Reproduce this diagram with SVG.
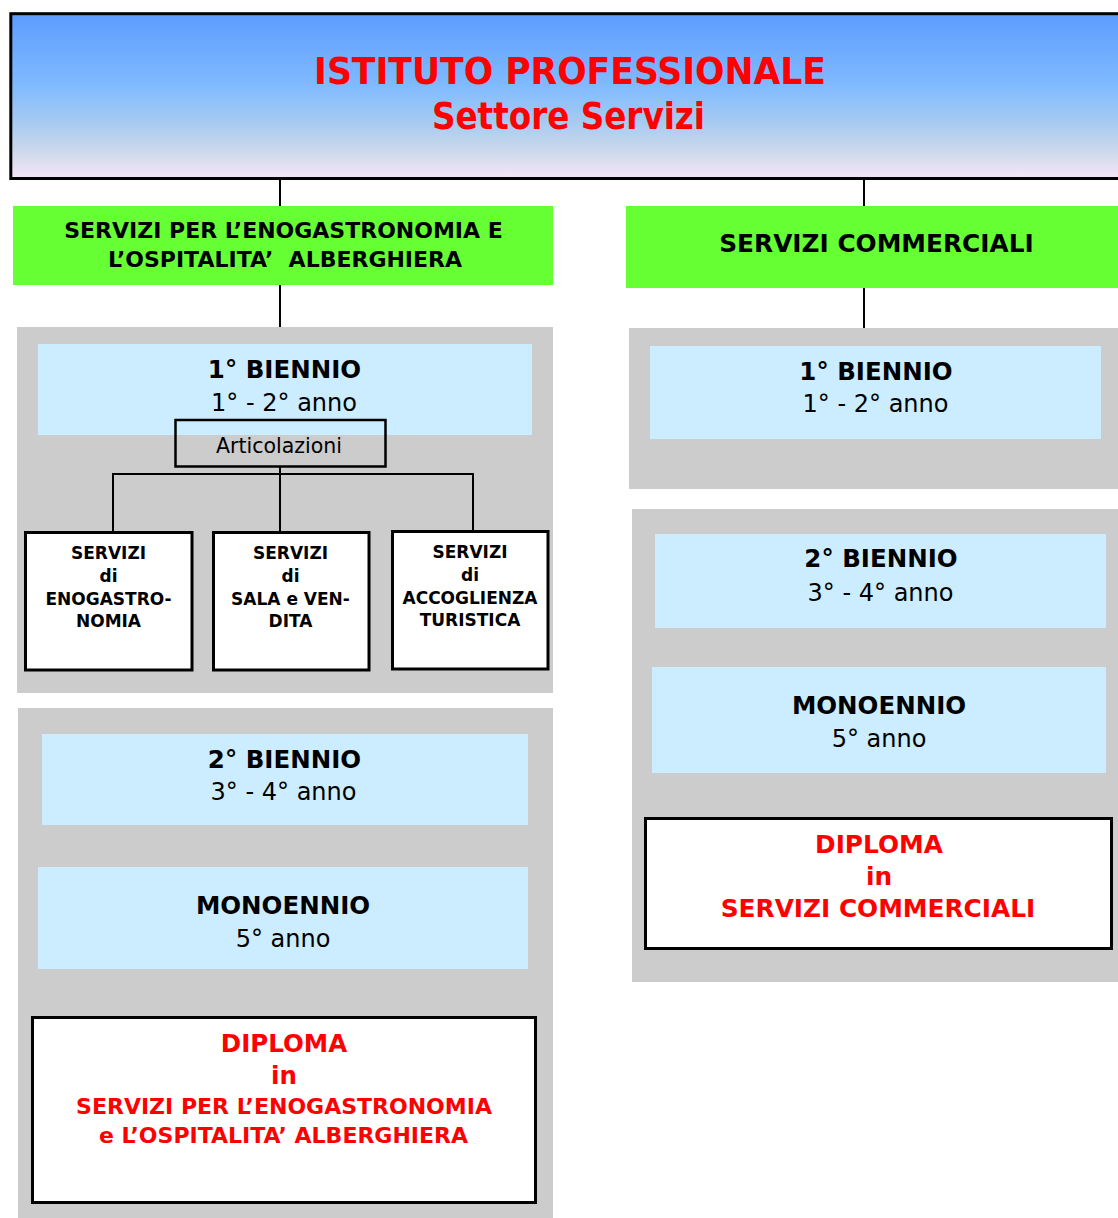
<svg xmlns="http://www.w3.org/2000/svg" width="1118" height="1218" viewBox="0 0 1118 1218">
<style>
text{font-family:"DejaVu Sans","Verdana",sans-serif;text-anchor:middle}
.b{font-weight:bold}
.red{fill:#FF0000}
.blk{fill:#000}
.gray{fill:#CCCCCC}
.lb{fill:#CCECFF}
.green{fill:#66FF33}
.box{fill:#FFFFFF;stroke:#000;stroke-width:3}
.h{font-size:24.5px;font-weight:bold}
.s{font-size:24px}
.c{font-size:17px;font-weight:bold}
.conn line{stroke:#000;stroke-width:2}
</style>
<defs>
<linearGradient id="sky" x1="0" y1="0" x2="0" y2="1">
<stop offset="0" stop-color="#5C9CFF"/>
<stop offset="0.43" stop-color="#7FBAFF"/>
<stop offset="0.65" stop-color="#A5CAF2"/>
<stop offset="0.82" stop-color="#C9D7EB"/>
<stop offset="1" stop-color="#F7E6F7"/>
</linearGradient>
</defs>
<rect width="1118" height="1218" fill="#FFFFFF"/>

<g id="panels">
<rect class="gray" x="17" y="327" width="536" height="366"/>
<rect class="gray" x="18" y="708" width="535" height="520"/>
<rect class="gray" x="629" y="328" width="500" height="161"/>
<rect class="gray" x="632" y="509" width="500" height="473"/>
</g>

<g class="conn" id="connectors">
<line x1="280" y1="180" x2="280" y2="206"/>
<line x1="864" y1="180" x2="864" y2="206"/>
<line x1="280" y1="285" x2="280" y2="327"/>
<line x1="864" y1="288" x2="864" y2="328"/>
<line x1="280" y1="467" x2="280" y2="531"/>
<line x1="112" y1="474" x2="474" y2="474"/>
<line x1="113" y1="473" x2="113" y2="531"/>
<line x1="473" y1="473" x2="473" y2="530"/>
</g>

<g id="title">
<rect x="10.8" y="13.7" width="1120" height="164.8" fill="url(#sky)" stroke="#000" stroke-width="3"/>
<text class="b red" x="570" y="84" font-size="38" textLength="512" lengthAdjust="spacingAndGlyphs">ISTITUTO PROFESSIONALE</text>
<text class="b red" x="568.5" y="129" font-size="38" textLength="273" lengthAdjust="spacingAndGlyphs">Settore Servizi</text>
</g>

<g id="enogastronomia">
<rect class="green" x="13" y="206" width="540" height="79"/>
<text class="b" x="283.5" y="237.5" font-size="22">SERVIZI PER L’ENOGASTRONOMIA E</text>
<text class="b" x="285" y="266.7" font-size="22" xml:space="preserve">L’OSPITALITA’  ALBERGHIERA</text>
</g>

<g id="commerciali">
<rect class="green" x="626" y="206" width="500" height="82"/>
<text class="b" x="876.5" y="252" font-size="24.8">SERVIZI COMMERCIALI</text>
</g>

<g id="l-biennio1">
<rect class="lb" x="38" y="344" width="494" height="91"/>
<text class="h" x="284.5" y="378">1° BIENNIO</text>
<text class="s" x="284" y="411">1° - 2° anno</text>
</g>

<g id="articolazioni">
<rect x="175.5" y="420" width="210" height="46.5" fill="none" stroke="#000" stroke-width="2.5"/>
<text x="279" y="453" font-size="20.5">Articolazioni</text>
</g>

<g id="art-enogastronomia">
<rect class="box" x="25.5" y="532.5" width="166.5" height="137.5"/>
<text class="c" x="108.5" y="559">SERVIZI</text>
<text class="c" x="108.5" y="582">di</text>
<text class="c" x="108.5" y="605">ENOGASTRO-</text>
<text class="c" x="108.5" y="627">NOMIA</text>
</g>

<g id="art-sala">
<rect class="box" x="213.5" y="532.5" width="155.5" height="137.5"/>
<text class="c" x="290.5" y="559">SERVIZI</text>
<text class="c" x="290.5" y="582">di</text>
<text class="c" x="290.5" y="605">SALA e VEN-</text>
<text class="c" x="290.5" y="627">DITA</text>
</g>

<g id="art-accoglienza">
<rect class="box" x="392.5" y="531.5" width="155.5" height="137.5"/>
<text class="c" x="470" y="558.3">SERVIZI</text>
<text class="c" x="470" y="581.3">di</text>
<text class="c" x="470" y="604">ACCOGLIENZA</text>
<text class="c" x="470" y="626">TURISTICA</text>
</g>

<g id="l-biennio2">
<rect class="lb" x="42" y="734" width="486" height="91"/>
<text class="h" x="284.5" y="768">2° BIENNIO</text>
<text class="s" x="283.5" y="800">3° - 4° anno</text>
</g>

<g id="l-monoennio">
<rect class="lb" x="38" y="867" width="490" height="102"/>
<text class="h" x="283" y="914">MONOENNIO</text>
<text class="s" x="283" y="947">5° anno</text>
</g>

<g id="l-diploma">
<rect class="box" x="32.5" y="1017.5" width="503" height="185"/>
<text class="b red" x="284" y="1052" font-size="24.5">DIPLOMA</text>
<text class="b red" x="284" y="1084" font-size="24.5">in</text>
<text class="b red" x="284" y="1114" font-size="22">SERVIZI PER L’ENOGASTRONOMIA</text>
<text class="b red" x="283.5" y="1143" font-size="22">e L’OSPITALITA’ ALBERGHIERA</text>
</g>

<g id="r-biennio1">
<rect class="lb" x="650" y="346" width="451" height="93"/>
<text class="h" x="876" y="380">1° BIENNIO</text>
<text class="s" x="875.5" y="412">1° - 2° anno</text>
</g>

<g id="r-biennio2">
<rect class="lb" x="655" y="534" width="451" height="94"/>
<text class="h" x="881" y="567">2° BIENNIO</text>
<text class="s" x="880.5" y="601">3° - 4° anno</text>
</g>

<g id="r-monoennio">
<rect class="lb" x="652" y="667" width="454" height="106"/>
<text class="h" x="879" y="714">MONOENNIO</text>
<text class="s" x="879" y="747">5° anno</text>
</g>

<g id="r-diploma">
<rect class="box" x="645.5" y="818.5" width="466" height="130"/>
<text class="b red" x="879" y="853" font-size="24.8">DIPLOMA</text>
<text class="b red" x="879" y="885" font-size="24.8">in</text>
<text class="b red" x="878" y="917" font-size="24.8">SERVIZI COMMERCIALI</text>
</g>
</svg>
